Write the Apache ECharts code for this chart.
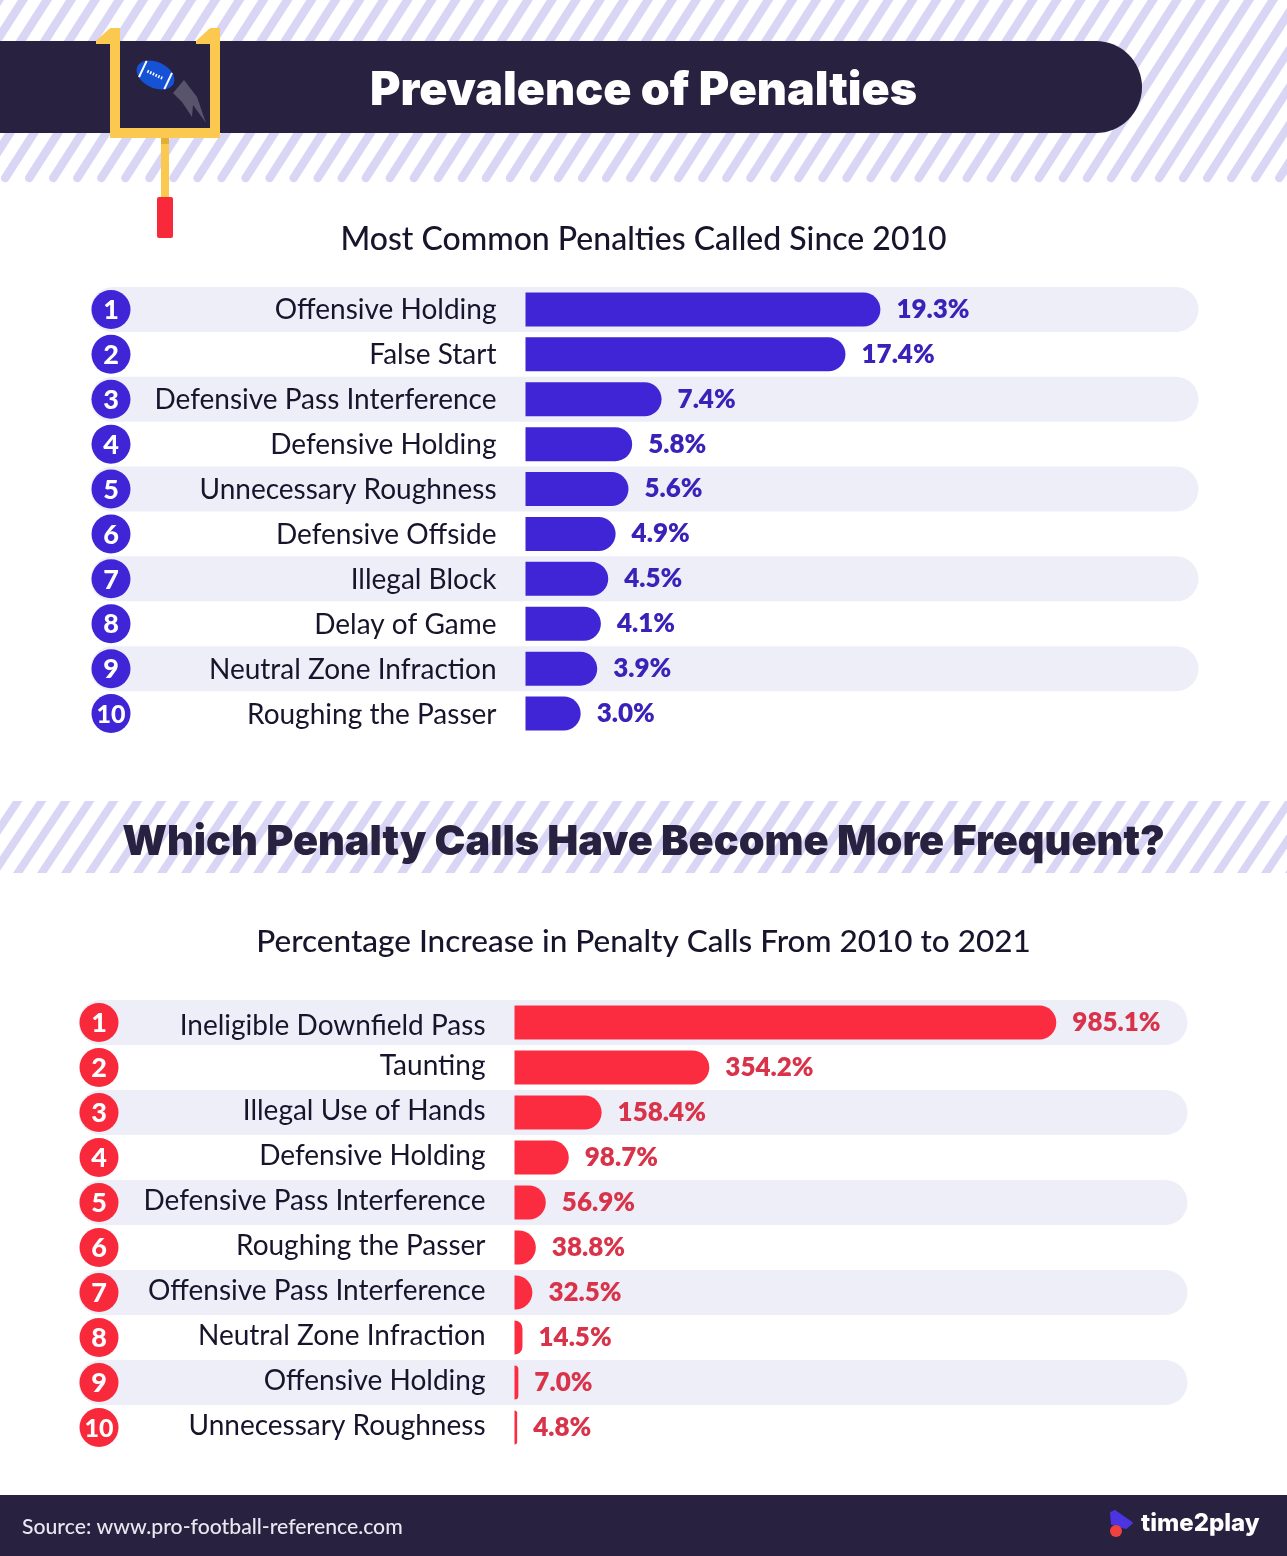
<!DOCTYPE html>
<html><head><meta charset="utf-8">
<style>html,body{margin:0;padding:0;background:#fff}#c{width:1287px;height:1556px}</style>
<script src="https://cdn.jsdelivr.net/npm/echarts@6/dist/echarts.min.js"></script>
</head><body><div id="c"></div>
<script>
const ranks = [1,2,3,4,5,6,7,8,9,10];
const commonCategories = ['Offensive Holding','False Start','Defensive Pass Interference','Defensive Holding','Unnecessary Roughness','Defensive Offside','Illegal Block','Delay of Game','Neutral Zone Infraction','Roughing the Passer'];
const commonValues = [19.3,17.4,7.4,5.8,5.6,4.9,4.5,4.1,3.9,3.0];
const increaseCategories = ['Ineligible Downfield Pass','Taunting','Illegal Use of Hands','Defensive Holding','Defensive Pass Interference','Roughing the Passer','Offensive Pass Interference','Neutral Zone Infraction','Offensive Holding','Unnecessary Roughness'];
const increaseValues = [985.1,354.2,158.4,98.7,56.9,38.8,32.5,14.5,7.0,4.8];

const FONT = 'Lato', HEAVY = 'Inter';
const INK = '#17142b', NAVY = '#28213f', STRIPE = '#d9d6f5', BAND = '#eeeef9', GOLD = '#fbc94f';

function roundStripes(yTop, yCap, anchor) {
  const out = [], slope = 0.64, dx = (yCap - yTop) * slope;
  for (let x = anchor - 24.04 * 2; x < 1287 + 24; x += 24.04) {
    out.push({type:'line', z:1, silent:true,
      shape:{x1:x, y1:yCap, x2:x + dx, y2:yTop},
      style:{stroke:STRIPE, lineWidth:8.5, lineCap:'round'}});
  }
  return out;
}
function flatStripes(y0, y1, phase) {
  const out = [], slope = 0.667, w = 9.5, dx = (y1 - y0) * slope;
  for (let x = phase - 24; x < 1287 + 72; x += 24) {
    out.push({type:'polygon', z:1, silent:true,
      shape:{points:[[x,y0],[x+w,y0],[x+w-dx,y1],[x-dx,y1]]},
      style:{fill:STRIPE}});
  }
  return out;
}

const decor = [
  ...roundStripes(-12, 178, -115),
  ...flatStripes(801, 873, 13),
  {type:'rect', z:2, silent:true, shape:{x:-60,y:41,width:1202,height:92,r:46}, style:{fill:NAVY}},
  {type:'rect', z:2, silent:true, shape:{x:0,y:1495,width:1287,height:61}, style:{fill:NAVY}},
  // goal post
  {type:'rect', z:3, silent:true, shape:{x:161,y:137,width:8,height:62}, style:{fill:GOLD}},
  {type:'rect', z:3, silent:true, shape:{x:161,y:137,width:8,height:7}, style:{fill:'#e3b035'}},
  {type:'rect', z:3, silent:true, shape:{x:157,y:197,width:16,height:41,r:2}, style:{fill:'#f9293c'}},
  {type:'rect', z:3, silent:true, shape:{x:110,y:128,width:110,height:10}, style:{fill:GOLD}},
  {type:'rect', z:3, silent:true, shape:{x:110,y:28,width:10,height:105}, style:{fill:GOLD}},
  {type:'rect', z:3, silent:true, shape:{x:210,y:28,width:10,height:105}, style:{fill:GOLD}},
  {type:'polygon', z:3, silent:true, shape:{points:[[96,41],[109,29],[111,29],[111,44],[96,44]]}, style:{fill:GOLD}},
  {type:'polygon', z:3, silent:true, shape:{points:[[196,41],[209,29],[211,29],[211,44],[196,44]]}, style:{fill:GOLD}},
  // ball and its trail
  {type:'polygon', z:3, silent:true, shape:{points:[[173,93],[184,80],[197,97],[206,123],[193,105],[192,117],[182,102]]}, style:{fill:'#58546b'}},
  {type:'ellipse', z:4, silent:true, x:155.5, y:75, rotation:-Math.PI*0.14, shape:{cx:0,cy:0,rx:20,ry:13}, style:{fill:'#1552d6'}},
  {type:'line', z:5, silent:true, x:155.5, y:75, rotation:-Math.PI*0.14, shape:{x1:-14,y1:-9,x2:-14,y2:9}, style:{stroke:'#fff',lineWidth:2}},
  {type:'line', z:5, silent:true, x:155.5, y:75, rotation:-Math.PI*0.14, shape:{x1:14,y1:-9,x2:14,y2:9}, style:{stroke:'#fff',lineWidth:2}},
  {type:'line', z:5, silent:true, x:155.5, y:75, rotation:-Math.PI*0.14, shape:{x1:-9,y1:0,x2:9,y2:0}, style:{stroke:'#fff',lineWidth:3,lineDash:[1.5,1.5]}},
  // logo
  {type:'polygon', z:3, silent:true, shape:{points:[[1111,1513],[1115,1511],[1132,1523],[1126,1528],[1112,1524]]}, style:{fill:'#4a35e0',stroke:'#4a35e0',lineWidth:2,lineJoin:'round'}},
  {type:'circle', z:3, silent:true, shape:{cx:1116,cy:1531,r:6}, style:{fill:'#f0413f'}},
  {type:'text', z:3, silent:true, x:22, y:1527, style:{text:'Source: www.pro-football-reference.com', fill:'#e9e8f0', font:'500 21.2px '+FONT, textVerticalAlign:'middle', textAlign:'left'}},
  {type:'text', z:3, silent:true, x:1141, y:1524, style:{text:'time2play', fill:'#fff', font:'800 24px '+HEAVY, textVerticalAlign:'middle', textAlign:'left'}}
];

function titleAt(text, y, size, weight, color, family) {
  return {text, left:643.5, top:y, padding:0, textAlign:'center', z:10,
    textStyle:{color, fontFamily:family, fontSize:size, fontWeight:weight}};
}

function rowDecor(badgeColor, leftOffset, bandWidth, badgeOffset) {
  return function (params, api) {
    const idx = api.value(1);
    const p = api.coord([0, idx]);
    const children = [];
    if (idx % 2 === 0) {
      children.push({type:'rect', shape:{x:p[0]+leftOffset, y:p[1]-22.5, width:bandWidth, height:45, r:22.5}, style:{fill:BAND}});
    }
    children.push({type:'circle', shape:{cx:p[0]+badgeOffset, cy:p[1], r:19.5}, style:{fill:badgeColor}});
    children.push({type:'text', x:p[0]+badgeOffset, y:p[1]+1, style:{text:String(ranks[idx]), fill:'#fff', font:'900 '+(ranks[idx]>9?25:27)+'px '+FONT, textAlign:'center', textVerticalAlign:'middle'}});
    return {type:'group', children};
  };
}

function yAxis(gridIndex, cats, shift) {
  return {gridIndex, type:'category', inverse:true, data:cats, z:5,
    axisLine:{show:false}, axisTick:{show:false}, splitLine:{show:false},
    axisLabel:{color:INK, fontFamily:FONT, fontSize:28, fontWeight:400, margin:29, align:'right',
      formatter:(v,i)=> '{'+shift(i)+'|'+v+'}',
      rich:{down:{fontFamily:FONT,fontSize:28,color:INK,padding:[2,0,0,0]},
            up:{fontFamily:FONT,fontSize:28,color:INK,padding:[0,0,4,0]},
            lower:{fontFamily:FONT,fontSize:28,color:INK,padding:[6,0,0,0]}}}};
}
function xAxis(gridIndex, max) {
  return {gridIndex, type:'value', min:0, max, show:false, splitLine:{show:false}};
}
function barSeries(i, values, color, labelColor) {
  return {type:'bar', xAxisIndex:i, yAxisIndex:i, z:2, data:values, barWidth:34,
    itemStyle:{color, borderRadius:[0,17,17,0]},
    label:{show:true, position:'right', distance:16, color:labelColor, fontFamily:FONT, fontSize:26, fontWeight:800,
      formatter:p => p.value.toFixed(1)+'%'}};
}

const chart = echarts.init(document.getElementById('c'), null, {renderer:'canvas'});
chart.setOption({
  animation:false,
  backgroundColor:'#fff',
  title:[
    titleAt('Prevalence of Penalties', 68, 46.5, 900, '#fff', HEAVY),
    titleAt('Most Common Penalties Called Since 2010', 224, 32, 500, INK, FONT),
    titleAt('Which Penalty Calls Have Become More Frequent?', 822, 41.4, 900, NAVY, HEAVY),
    titleAt('Percentage Increase in Penalty Calls From 2010 to 2021', 926, 31.5, 500, INK, FONT)
  ],
  graphic:{elements:decor},
  grid:[
    {left:525.5, top:287, width:662, height:449},
    {left:514.5, top:1000, width:660, height:450}
  ],
  xAxis:[xAxis(0,36), xAxis(1,1200)],
  yAxis:[yAxis(0,commonCategories,()=> 'down'), yAxis(1,increaseCategories,i=> i===0?'lower':'up')],
  series:[
    {type:'custom', xAxisIndex:0, yAxisIndex:0, z:1, silent:true, clip:false,
      renderItem:rowDecor('#3f25d6',-435,1108,-414.5), encode:{x:0,y:1},
      data:ranks.map((r,i)=>[0,i])},
    {type:'custom', xAxisIndex:1, yAxisIndex:1, z:1, silent:true, clip:false,
      renderItem:rowDecor('#f9293c',-436,1109,-415.5), encode:{x:0,y:1},
      data:ranks.map((r,i)=>[0,i])},
    barSeries(0, commonValues, '#3f25d6', '#3a22b8'),
    barSeries(1, increaseValues, '#fb2c40', '#d9334a')
  ]
});
</script></body></html>
